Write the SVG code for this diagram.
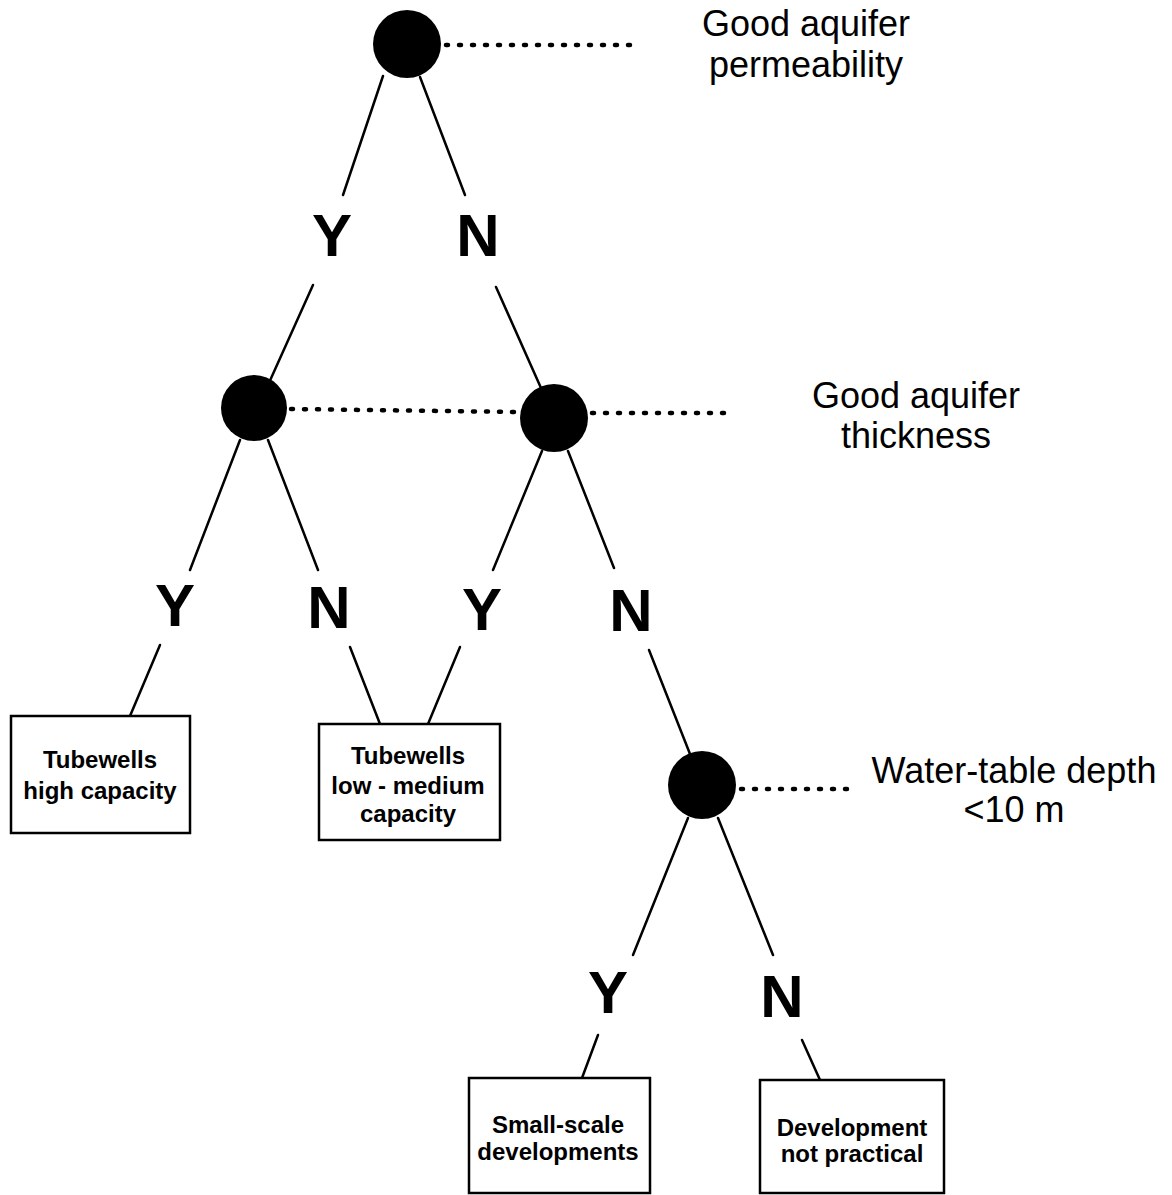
<svg xmlns="http://www.w3.org/2000/svg" width="1172" height="1195" viewBox="0 0 1172 1195">
<style>
.dot{fill:#000}
.ln{stroke:#000;stroke-width:2.5;fill:none;stroke-linecap:round}
.dash{stroke:#000;stroke-width:4.5;fill:none;stroke-linecap:round;stroke-dasharray:2 11}
.box{fill:#fff;stroke:#000;stroke-width:2.5}
.yn{font-family:"Liberation Sans",Arial,sans-serif;font-weight:bold;font-size:60px;text-anchor:middle;fill:#000}
.lbl{font-family:"Liberation Sans",Arial,sans-serif;font-size:36px;text-anchor:middle;fill:#000}
.bt{font-family:"Liberation Sans",Arial,sans-serif;font-weight:bold;font-size:24px;text-anchor:middle;fill:#000}
</style>
<rect width="1172" height="1195" fill="#fff"/>
<g id="connectors">
<line class="ln" x1="383" y1="76" x2="343" y2="195"/>
<line class="ln" x1="313" y1="285" x2="268" y2="385"/>
<line class="ln" x1="420" y1="77" x2="465" y2="195"/>
<line class="ln" x1="496" y1="287" x2="541" y2="388"/>
<line class="ln" x1="240" y1="440" x2="190" y2="570"/>
<line class="ln" x1="268" y1="440" x2="318" y2="570"/>
<line class="ln" x1="542" y1="451" x2="493" y2="570"/>
<line class="ln" x1="568" y1="451" x2="614" y2="568"/>
<line class="ln" x1="160" y1="645" x2="130" y2="716"/>
<line class="ln" x1="350" y1="647" x2="380" y2="724"/>
<line class="ln" x1="460" y1="647" x2="428" y2="724"/>
<line class="ln" x1="649" y1="650" x2="690" y2="754"/>
<line class="ln" x1="688" y1="818" x2="633" y2="955"/>
<line class="ln" x1="718" y1="818" x2="773" y2="955"/>
<line class="ln" x1="598" y1="1035" x2="582" y2="1078"/>
<line class="ln" x1="802" y1="1040" x2="820" y2="1080"/>
<line class="dash" x1="446" y1="45" x2="634" y2="45"/>
<line class="dash" x1="291" y1="409" x2="520" y2="412"/>
<line class="dash" x1="592" y1="413" x2="732" y2="413"/>
<line class="dash" x1="741" y1="789" x2="855" y2="789"/>
</g>
<g id="node-permeability">
<circle class="dot" cx="407" cy="44" r="34"/>
<text class="lbl" x="806" y="36">Good aquifer</text>
<text class="lbl" x="806" y="77">permeability</text>
</g>
<g id="node-thickness-y">
<circle class="dot" cx="254" cy="408" r="33"/>
</g>
<g id="node-thickness-n">
<circle class="dot" cx="554" cy="418" r="34"/>
<text class="lbl" x="916" y="408">Good aquifer</text>
<text class="lbl" x="916" y="448">thickness</text>
</g>
<g id="node-watertable">
<circle class="dot" cx="702" cy="785" r="34"/>
<text class="lbl" x="1014" y="783">Water-table depth</text>
<text class="lbl" x="1014" y="822">&lt;10 m</text>
</g>
<g id="labels-yn">
<text class="yn" x="332" y="256">Y</text>
<text class="yn" x="478" y="256">N</text>
<text class="yn" x="175" y="626">Y</text>
<text class="yn" x="329" y="628">N</text>
<text class="yn" x="482" y="630">Y</text>
<text class="yn" x="631" y="631">N</text>
<text class="yn" x="608" y="1013">Y</text>
<text class="yn" x="782" y="1017">N</text>
</g>
<g id="box-high">
<rect class="box" x="11" y="716" width="179" height="117"/>
<text class="bt" x="100" y="768">Tubewells</text>
<text class="bt" x="100" y="799">high capacity</text>
</g>
<g id="box-low">
<rect class="box" x="319" y="724" width="181" height="116"/>
<text class="bt" x="408" y="764">Tubewells</text>
<text class="bt" x="408" y="794">low - medium</text>
<text class="bt" x="408" y="822">capacity</text>
</g>
<g id="box-small">
<rect class="box" x="469" y="1078" width="181" height="115"/>
<text class="bt" x="558" y="1133">Small-scale</text>
<text class="bt" x="558" y="1160">developments</text>
</g>
<g id="box-notpractical">
<rect class="box" x="760" y="1080" width="184" height="113"/>
<text class="bt" x="852" y="1136">Development</text>
<text class="bt" x="852" y="1162">not practical</text>
</g>
</svg>
